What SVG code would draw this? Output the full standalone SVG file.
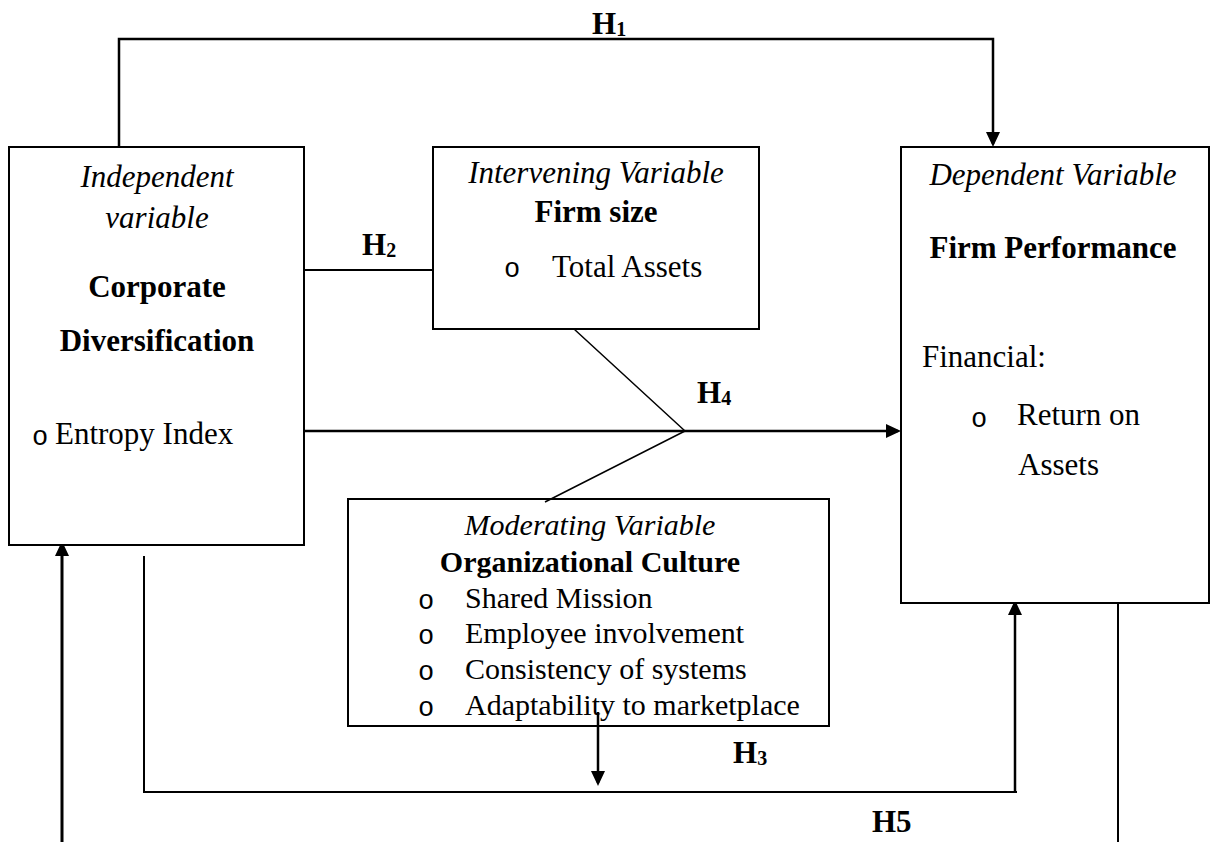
<svg xmlns="http://www.w3.org/2000/svg" width="1213" height="842" viewBox="0 0 1213 842">
<defs>
<style>
text{font-family:"Liberation Serif","Times New Roman",serif;fill:#000;font-size:31px}
.it{font-style:italic}
.b{font-weight:bold}
.m{text-anchor:middle}
.mod text{font-size:30px}
.bul{font-family:"Liberation Mono","Courier New",monospace;font-size:27px;text-anchor:middle}
.mod .bul{font-size:27px}
.sub{font-size:20px}
.box{fill:#fff;stroke:#000;stroke-width:2}
.ln{fill:none;stroke:#000;stroke-width:2}
.arr{fill:none;stroke:#000;stroke-width:2.5;marker-end:url(#ah)}
.thin{fill:none;stroke:#000;stroke-width:1.5}
</style>
<marker id="ah" markerUnits="userSpaceOnUse" markerWidth="16" markerHeight="14" refX="12" refY="7" orient="auto">
<path d="M0,0 L15,7 L0,14 z" fill="#000"/>
</marker>
</defs>
<rect width="1213" height="842" fill="#fff"/>
<g id="connectors">
<path class="arr" d="M119,147 V39 H993 V144"/>
<path class="ln" d="M304,270 H433"/>
<path class="arr" d="M304,431 H898"/>
<path class="thin" d="M574,329 L685,431 L545,502"/>
<path class="arr" d="M598,712 V783"/>
<path class="ln" d="M144,556 V792 H1017"/>
<path class="arr" d="M1015,792 V603"/>
<path class="arr" style="stroke-width:3" d="M62,842 V544"/>
<path class="ln" d="M1118,600 V842"/>
</g>
<g id="labels" class="b">
<text x="592" y="34">H<tspan class="sub" dy="2">1</tspan></text>
<text x="362" y="255">H<tspan class="sub" dy="2">2</tspan></text>
<text x="697" y="403">H<tspan class="sub" dy="2">4</tspan></text>
<text x="733" y="763">H<tspan class="sub" dy="2">3</tspan></text>
<text x="872" y="832">H5</text>
</g>
<g id="independent">
<rect class="box" x="9" y="147" width="295" height="398"/>
<text class="it m" x="157" y="187">Independent</text>
<text class="it m" x="157" y="228">variable</text>
<text class="b m" x="157" y="297">Corporate</text>
<text class="b m" x="157" y="351">Diversification</text>
<text class="bul" x="40" y="445">o</text>
<text x="55" y="444">Entropy Index</text>
</g>
<g id="intervening">
<rect class="box" x="433" y="147" width="326" height="182"/>
<text class="it m" x="596" y="183">Intervening Variable</text>
<text class="b m" x="596" y="222">Firm size</text>
<text class="bul" x="512" y="277">o</text>
<text x="552" y="277">Total Assets</text>
</g>
<g id="dependent">
<rect class="box" x="901" y="147" width="308" height="456"/>
<text class="it m" x="1053" y="185">Dependent Variable</text>
<text class="b m" x="1053" y="258">Firm Performance</text>
<text x="922" y="367">Financial:</text>
<text class="bul" x="979" y="427">o</text>
<text x="1017" y="425">Return on</text>
<text x="1018" y="475">Assets</text>
</g>
<g id="moderating" class="mod">
<rect class="box" x="348" y="499" width="481" height="227" style="fill:none"/>
<text class="it m" x="590" y="535">Moderating Variable</text>
<text class="b m" x="590" y="572">Organizational Culture</text>
<text class="bul" x="426" y="609">o</text>
<text x="465" y="608">Shared Mission</text>
<text class="bul" x="426" y="644">o</text>
<text x="465" y="643">Employee involvement</text>
<text class="bul" x="426" y="680">o</text>
<text x="465" y="679">Consistency of systems</text>
<text class="bul" x="426" y="716">o</text>
<text x="465" y="715">Adaptability to marketplace</text>
</g>
</svg>
